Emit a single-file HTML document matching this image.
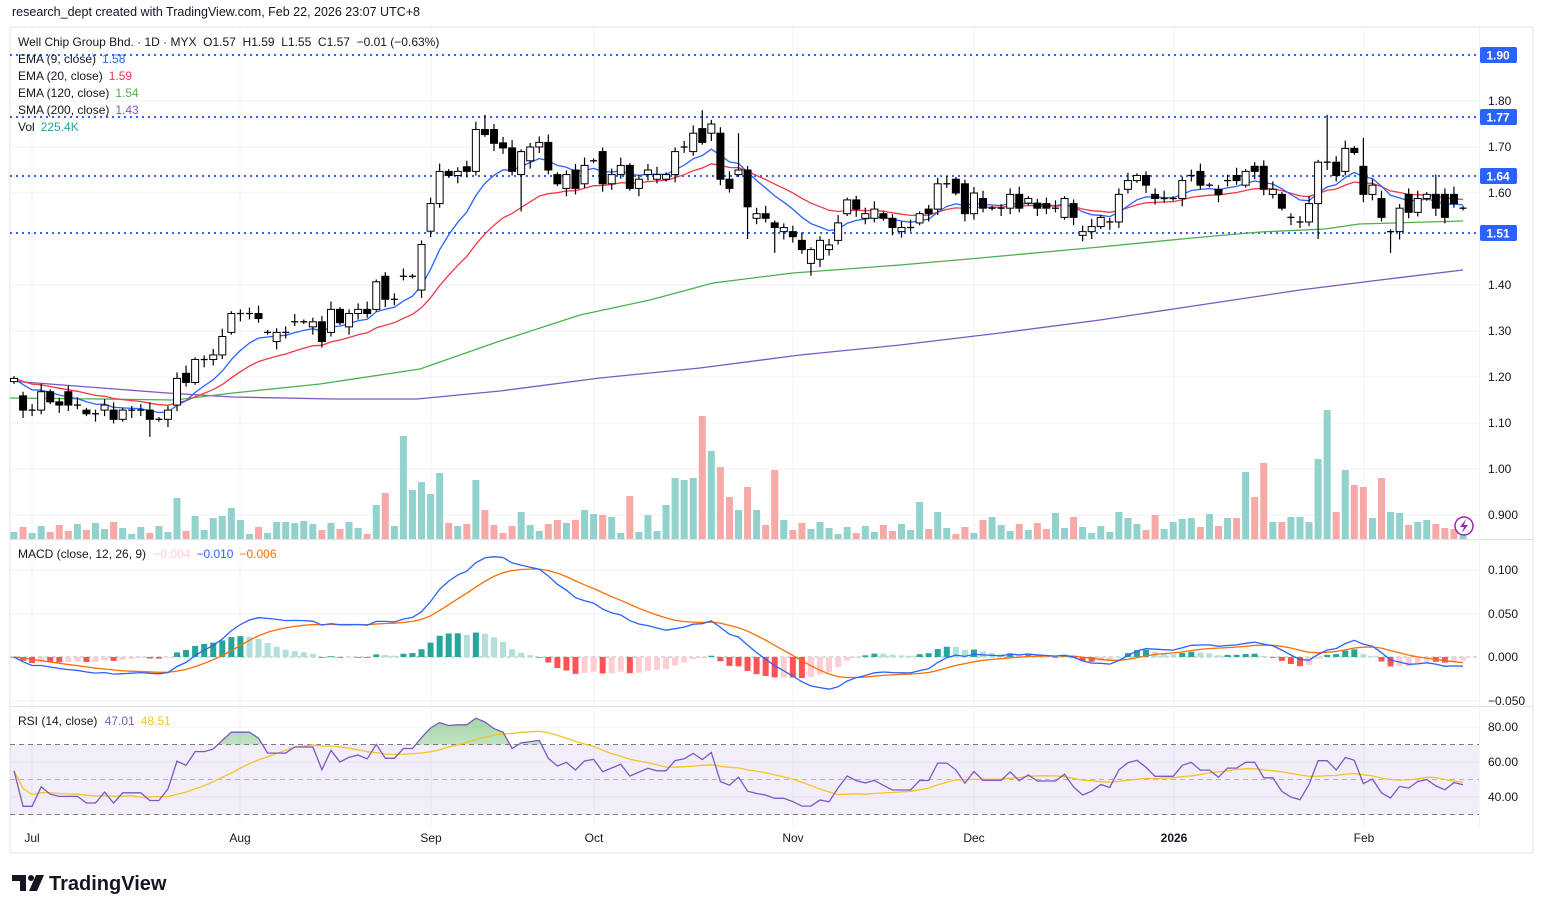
<!DOCTYPE html>
<html><head><meta charset="utf-8"><style>
html,body{margin:0;padding:0;background:#fff;}
svg text{font-family:"Liberation Sans",sans-serif;}
</style></head><body>
<svg id="s" width="1543" height="913" xmlns="http://www.w3.org/2000/svg"></svg>
<script>
const S=document.getElementById('s');let h='';
const data=[[1.19,1.197],[1.159,1.128],[1.128,1.128],[1.128,1.168],[1.168,1.146],[1.146,1.139],[1.168,1.139],[1.139,1.139],[1.128,1.12],[1.12,1.12],[1.128,1.139],[1.128,1.108],[1.108,1.128],[1.128,1.128],[1.128,1.128],[1.128,1.108],[1.108,1.108],[1.108,1.128],[1.139,1.197],[1.208,1.188],[1.188,1.238],[1.238,1.238],[1.238,1.248],[1.248,1.288],[1.297,1.338],[1.338,1.338],[1.338,1.338],[1.338,1.327],[1.297,1.297],[1.277,1.297],[1.297,1.297],[1.32,1.32],[1.32,1.32],[1.309,1.32],[1.32,1.277],[1.297,1.347],[1.347,1.318],[1.309,1.338],[1.338,1.347],[1.347,1.338],[1.347,1.407],[1.419,1.369],[1.369,1.369],[1.419,1.419],[1.419,1.419],[1.389,1.488],[1.517,1.577],[1.577,1.647],[1.647,1.638],[1.638,1.647],[1.657,1.647],[1.647,1.738],[1.738,1.727],[1.738,1.708],
[1.709,1.698],[1.698,1.647],[1.64,1.69],[1.67,1.70],[1.70,1.71],[1.71,1.65],[1.64,1.62],[1.61,1.64],[1.65,1.61],[1.62,1.66],[1.67,1.67],[1.69,1.62],[1.62,1.64],[1.64,1.66],[1.66,1.61],[1.61,1.63],[1.64,1.65],[1.63,1.64],[1.63,1.64],[1.64,1.69],[1.70,1.70],[1.69,1.73],[1.74,1.71],[1.73,1.75],[1.73,1.63],[1.63,1.61],[1.64,1.65],[1.65,1.57],[1.545,1.555],[1.555,1.545],[1.535,1.525],[1.516,1.525],[1.516,1.505],[1.497,1.477],[1.447,1.477],[1.456,1.497],[1.477,1.487],[1.497,1.535],[1.555,1.585],[1.585,1.565],[1.545,1.555],[1.545,1.565],[1.555,1.545],[1.545,1.525],[1.516,1.525],[1.525,1.525],[1.535,1.555],[1.565,1.555],[1.565,1.62],[1.62,1.62],[1.63,1.60],[1.62,1.555],[1.555,1.60],
[1.588,1.567],[1.567,1.567],[1.567,1.567],[1.567,1.597],[1.597,1.567],[1.578,1.588],[1.578,1.567],[1.577,1.567],[1.567,1.567],[1.547,1.588],[1.577,1.547],[1.508,1.516],[1.516,1.527],[1.527,1.547],[1.537,1.537],[1.537,1.597],[1.608,1.627],[1.627,1.638],[1.638,1.617],[1.597,1.588],[1.588,1.588],[1.588,1.588],[1.588,1.627],[1.638,1.638],[1.647,1.617],[1.617,1.617],[1.608,1.597],[1.627,1.627],[1.638,1.627],[1.617,1.647],[1.658,1.647],[1.658,1.608],[1.597,1.608],[1.597,1.567],[1.547,1.547],[1.537,1.537],[1.537,1.577],[1.577,1.667],[1.667,1.667],[1.667,1.638],[1.647,1.697],[1.697,1.688],[1.658,1.597],[1.597,1.617],[1.588,1.547],[1.516,1.516],[1.516,1.567],[1.597,1.558],[1.558,1.588],[1.588,1.597],[1.597,1.567],[1.597,1.547],[1.597,1.577],[1.567,1.567]];
const N=data.length,X0=14,X1=1463,dx=(X1-X0)/(N-1);
const xs=i=>X0+i*dx, py=p=>55+(1.90-p)*460;
// grid
const pg=[1.8,1.7,1.6,1.5,1.4,1.3,1.2,1.1,1.0,0.9];
const months=[[32,'Jul'],[240,'Aug'],[431,'Sep'],[594,'Oct'],[793,'Nov'],[974,'Dec'],[1174,'2026'],[1364,'Feb']];
h+='<rect x="10" y="27" width="1523" height="826" fill="none" stroke="#e0e3eb"/>';
months.forEach(m=>{h+=`<line x1="${m[0]}" y1="28" x2="${m[0]}" y2="826" stroke="#f0f3fa"/>`});
pg.forEach(p=>{h+=`<line x1="10" y1="${py(p)}" x2="1479" y2="${py(p)}" stroke="#f0f3fa"/>`});
[570,614,701].forEach(y=>h+=`<line x1="10" y1="${y}" x2="1479" y2="${y}" stroke="#f0f3fa"/>`);
[727,762,797].forEach(y=>h+=`<line x1="10" y1="${y}" x2="1479" y2="${y}" stroke="#f0f3fa"/>`);
h+='<line x1="10" y1="539.5" x2="1533" y2="539.5" stroke="#e0e3eb"/><line x1="10" y1="706.5" x2="1533" y2="706.5" stroke="#e0e3eb"/>';
h+='<line x1="1479.5" y1="28" x2="1479.5" y2="826" stroke="#f0f3fa"/>';
// volume
const spikes=[[13,532],[175,498],[195,516],[213,518],[222,516],[232,508],[240,520],[276,522],[285,522],[294,523],[303,521],[376,505],[385,493],[403,436],[412,490],[421,482],[430,494],[439,473],[457,526],[466,524],[476,480],[485,510],[494,525],[521,512],[557,520],[575,520],[584,510],[593,514],[602,515],[611,517],[629,496],[648,515],[666,505],[675,478],[685,480],[694,478],[703,416],[712,451],[721,467],[730,497],[739,510],[748,487],[757,510],[775,470],[785,520],[920,502],[938,512],[984,520],[993,517],[1057,513],[1074,517],[1120,512],[1129,518],[1157,515],[1184,519],[1193,518],[1211,514],[1229,518],[1238,518],[1247,472],[1256,497],[1265,463],[1274,522],[1283,522],[1292,517],[1301,517],[1310,522],[1319,459],[1328,410],[1337,512],[1346,470],[1355,485],[1364,487],[1373,518],[1382,478],[1392,512],[1401,513],[1410,525],[1419,522],[1428,520],[1437,524],[1446,528],[1455,529]];
data.forEach((d,i)=>{const x=xs(i);let top=539-(5+((i*7)%13));let best=5;spikes.forEach(s=>{if(Math.abs(s[0]-x)<best){best=Math.abs(s[0]-x);top=s[1];}});
const up=d[1]>=d[0];h+=`<rect x="${x-3.5}" y="${top}" width="7" height="${539-top}" fill="${up?'#92d2cc':'#f7a9a7'}"/>`;});
// levels
[[55,'1.90'],[117,'1.77'],[176,'1.64'],[233,'1.51']].forEach(l=>{h+=`<line x1="10" y1="${l[0]}" x2="1479" y2="${l[0]}" stroke="#2962ff" stroke-width="2" stroke-dasharray="2,4"/>`;});
// MAs
function ema(a,n){const k=2/(n+1);let r=[],e=a[0];a.forEach(v=>{e=v*k+e*(1-k);r.push(e)});return r;}
const C=data.map(d=>d[1]);
const e9=ema(C,9),e20=ema(C,20);
const pl=(arr,f,col,w)=>{h+=`<polyline fill="none" stroke="${col}" stroke-width="${w||1.3}" points="${arr.map((v,i)=>xs(i).toFixed(1)+','+f(v).toFixed(1)).join(' ')}"/>`;};
const ptl=(pts,col)=>{h+=`<polyline fill="none" stroke="${col}" stroke-width="1.3" points="${pts.map(p=>p.join(',')).join(' ')}"/>`;};
ptl([[10,381],[167,393],[233,397],[333,399],[417,399],[500,391],[600,378],[700,368],[800,355],[900,345],[1000,333],[1100,320],[1200,305],[1300,290],[1380,280],[1463,270]],'#7e57c2');
ptl([[10,398],[100,399],[175,400],[233,393],[320,384],[420,369],[500,341],[580,315],[650,300],[713,283],[793,273],[900,265],[980,258],[1100,247],[1192,238],[1260,232],[1325,229],[1359,224],[1463,221]],'#4caf50');
pl(e20,py,'#f23645');pl(e9,py,'#2962ff');
// candles
const sp={485:1.77,703:1.78,1328:1.77,1437:1.64,1361:1.72,739:1.73,494:1.75};
const sl={148:1.07,811:1.42,1395:1.47,748:1.50,521:1.56,775:1.47,1319:1.50,1090:1.50};
data.forEach((d,i)=>{const x=xs(i);let hi=Math.max(d[0],d[1])+0.005+((i*5)%4)*0.004,lo=Math.min(d[0],d[1])-0.005-((i*3)%4)*0.004;
for(const k in sp)if(Math.abs(k-x)<4.6)hi=sp[k];for(const k in sl)if(Math.abs(k-x)<4.6)lo=sl[k];
const up=d[1]>=d[0];const t=py(Math.max(d[0],d[1])),b=py(Math.min(d[0],d[1]));
h+=`<line x1="${x}" y1="${py(hi)}" x2="${x}" y2="${py(lo)}" stroke="#000" stroke-width="1.2"/>`;
if(b-t<1.5)h+=`<line x1="${x-3.5}" y1="${t}" x2="${x+3.5}" y2="${t}" stroke="#000" stroke-width="1.3"/>`;
else h+=`<rect x="${x-3.5}" y="${t}" width="7" height="${b-t}" fill="${up?'#fff':'#000'}" stroke="#000" stroke-width="1"/>`;});
// MACD
const e12=ema(C,12),e26=ema(C,26);const m=C.map((v,i)=>e12[i]-e26[i]);const sg=ema(m,9);
const my=v=>657-v*874;
h+='<line x1="10" y1="657" x2="1479" y2="657" stroke="#b2b5be" stroke-dasharray="4,3"/>';
m.forEach((v,i)=>{const hv=v-sg[i],pv=i?m[i-1]-sg[i-1]:0;const col=hv>=0?(hv>=pv?'#26a69a':'#b2dfdb'):(hv<pv?'#ff5252':'#ffcdd2');
const y=my(hv);h+=`<rect x="${xs(i)-3}" y="${Math.min(y,657)}" width="6" height="${Math.max(Math.abs(y-657),0.8)}" fill="${col}"/>`;});
pl(sg,my,'#ff6d00');pl(m,my,'#2962ff');
// RSI
const ry=v=>727+(80-v)*1.75;
h+=`<rect x="10" y="${ry(70)}" width="1469" height="${ry(30)-ry(70)}" fill="#7e57c2" fill-opacity="0.1"/>`;
[70,50,30].forEach(v=>h+=`<line x1="10" y1="${ry(v)}" x2="1479" y2="${ry(v)}" stroke="${v==50?'#b2b5be':'#787b86'}" stroke-dasharray="5,4"/>`);
let ag=0.006,al=0.006;const R=[55];for(let i=1;i<N;i++){const d=C[i]-C[i-1];ag=(ag*13+Math.max(d,0))/14;al=(al*13+Math.max(-d,0))/14;R.push(100-100/(1+ag/al));}
const RM=R.map((v,i)=>{const s=R.slice(Math.max(0,i-13),i+1);return s.reduce((a,b)=>a+b)/s.length;});
h+=`<defs><clipPath id="ob"><rect x="10" y="700" width="1469" height="${ry(70)-700}"/></clipPath><linearGradient id="gg" x1="0" y1="0" x2="0" y2="1"><stop offset="0" stop-color="#4caf50" stop-opacity="0.5"/><stop offset="1" stop-color="#4caf50" stop-opacity="0"/></linearGradient></defs>`;
h+=`<polygon clip-path="url(#ob)" fill="url(#gg)" points="${xs(0)},${ry(70)} ${R.map((v,i)=>xs(i).toFixed(1)+','+ry(v).toFixed(1)).join(' ')} ${xs(N-1)},${ry(70)}"/>`;
pl(RM,ry,'#f7c325');pl(R,ry,'#7e57c2');
// right axis labels
const T=(x,y,t,c,s,w,a)=>h+=`<text x="${x}" y="${y}" fill="${c||'#131722'}" font-size="${s||12}" ${w?'font-weight="bold"':''} ${a?'text-anchor="'+a+'"':''}>${t}</text>`;
[[1.8,'1.80'],[1.7,'1.70'],[1.6,'1.60'],[1.4,'1.40'],[1.3,'1.30'],[1.2,'1.20'],[1.1,'1.10'],[1.0,'1.00'],[0.9,'0.900']].forEach(p=>T(1488,py(p[0])+4,p[1]));
[[570,'0.100'],[614,'0.050'],[657,'0.000'],[701,'−0.050']].forEach(p=>T(1488,p[0]+4,p[1]));
[[727,'80.00'],[762,'60.00'],[797,'40.00']].forEach(p=>T(1488,p[0]+4,p[1]));
[[55,'1.90'],[117,'1.77'],[176,'1.64'],[233,'1.51']].forEach(l=>{h+=`<rect x="1480" y="${l[0]-8}" width="37" height="16" rx="2" fill="#2962ff"/>`;T(1498,l[0]+4.5,l[1],'#fff',12,1,'middle');});
months.forEach(mm=>T(mm[0],842,mm[1],'#131722',12,mm[1]=='2026','middle'));
// header
T(12,16,'research_dept created with TradingView.com, Feb 22, 2026 23:07 UTC+8','#131722',12.5);
T(18,46,'Well Chip Group Bhd. · 1D · MYX &#160;O1.57 &#160;H1.59 &#160;L1.55 &#160;C1.57 &#160;−0.01 (−0.63%)','#131722',12);
const leg=[[63,'EMA (9, close)','1.58','#2962ff'],[80,'EMA (20, close)','1.59','#f23645'],[97,'EMA (120, close)','1.54','#4caf50'],[114,'SMA (200, close)','1.43','#7e57c2'],[131,'Vol','225.4K','#26a69a']];
leg.forEach(l=>{h+=`<text x="18" y="${l[0]}" font-size="12" fill="#131722">${l[1]}<tspan fill="${l[3]}" dx="6">${l[2]}</tspan></text>`;});
h+=`<text x="18" y="558" font-size="12" fill="#131722">MACD (close, 12, 26, 9) <tspan fill="#ffcdd2" dx="4">−0.004</tspan><tspan fill="#2962ff" dx="6">−0.010</tspan><tspan fill="#ff6d00" dx="6">−0.006</tspan></text>`;
h+=`<text x="18" y="725" font-size="12" fill="#131722">RSI (14, close) <tspan fill="#7e57c2" dx="4">47.01</tspan><tspan fill="#f7c325" dx="6">48.51</tspan></text>`;
h+='<circle cx="1464" cy="526" r="9" fill="#fff" stroke="#9c27b0" stroke-width="1.5"/><path d="M1466 519 L1460 527 L1464 527 L1462 533 L1468 525 L1464 525 Z" fill="#9c27b0"/>';
// logo
h+='<path d="M12 875 h14 v16 h-6 v-10 h-8z" fill="#131722"/><circle cx="31" cy="878" r="3" fill="#131722"/><path d="M36 875 h8 l-7 16 h-8z" fill="#131722"/>';
T(49,890,'TradingView','#131722',20,1);
S.innerHTML=h;
</script>
</body></html>
